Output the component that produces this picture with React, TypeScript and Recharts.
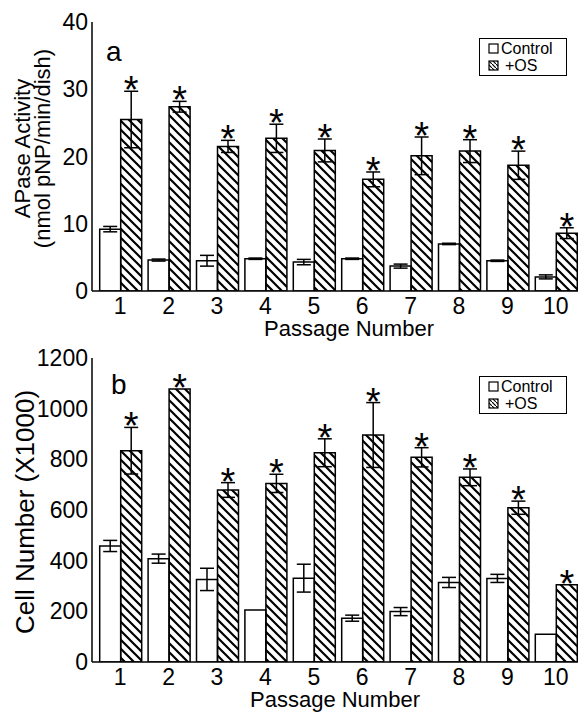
import React from "react";
import { BarChart, Bar, XAxis, YAxis, ErrorBar, LabelList, Legend } from "recharts";

// passage numbers shared by both panels
const passages = ["1", "2", "3", "4", "5", "6", "7", "8", "9", "10"];

// panel a: APase activity (nmol pNP/min/dish)
const apaseControl = [9.2, 4.6, 4.5, 4.8, 4.3, 4.8, 3.7, 7.0, 4.5, 2.1];
const apaseControlErr = [0.4, 0.15, 0.8, 0.1, 0.4, 0.1, 0.3, 0.1, 0.1, 0.3];
const apaseOS = [25.5, 27.4, 21.5, 22.7, 20.9, 16.6, 20.1, 20.8, 18.7, 8.6];
const apaseOSErr = [4.2, 0.8, 0.9, 2.1, 1.7, 1.1, 2.8, 1.7, 2.1, 0.8];
const apaseTicks = [0, 10, 20, 30, 40];

// panel b: cell number (x1000)
const cellControl = [458, 408, 326, 205, 331, 173, 199, 314, 330, 110];
const cellControlErr = [22, 18, 44, 0, 55, 12, 16, 20, 16, 0];
const cellOS = [834, 1078, 679, 705, 826, 896, 808, 729, 609, 305];
const cellOSErr = [92, 0, 29, 36, 55, 128, 38, 33, 26, 0];
const cellTicks = [0, 200, 400, 600, 800, 1000, 1200];

const FONT = "Arial, 'Liberation Sans', Helvetica, sans-serif";

const PLOT_LEFT = 92;
const PLOT_RIGHT = 580;
const CHART_W = 600;
const PAD_L = 4;
const BAND = (PLOT_RIGHT - PLOT_LEFT - PAD_L) / passages.length;
// numeric domain matching the category band, used for the frame tick marks
const NUM_DOMAIN: [number, number] = [0.5 - PAD_L / BAND, passages.length + 0.5];
const halfTicks = passages.flatMap((_, i) => [i + 0.5, i + 1]).concat([passages.length + 0.5]);
const boundaryTicks = passages.map((_, i) => i + 1.5);

const range = (max: number, step: number) => {
  const out: number[] = [];
  for (let v = 0; v <= max + 1e-9; v += step) out.push(v);
  return out;
};

const starLabel = (errs: number[]) => (props: any) => {
  const vb = props.viewBox ?? props;
  const { x, y, width } = vb;
  const height = Math.abs(vb.height);
  const value = Number(props.value);
  if (!value || props.index == null) return null;
  const top = y - (errs[props.index] * height) / value;
  return (
    <text x={x + width / 2} y={top + 12} textAnchor="middle" fontSize={38} fontFamily={FONT} fill="#000">
      *
    </text>
  );
};

function LegendBox({ id }: { id: string }) {
  const row = { display: "flex", alignItems: "center", height: 17 } as const;
  return (
    <div
      style={{
        border: "1.5px solid #000",
        background: "#fff",
        padding: "1px 4px 1px 8px",
        fontFamily: FONT,
        fontSize: 16,
        color: "#000",
        boxSizing: "border-box",
        width: 88,
      }}
    >
      <div style={row}>
        <svg width={11} height={11} style={{ marginRight: 2 }}>
          <rect x={1} y={1} width={9} height={9} fill="#fff" stroke="#000" strokeWidth={1.2} />
        </svg>
        Control
      </div>
      <div style={row}>
        <svg width={11} height={11} style={{ marginRight: 6 }}>
          <defs>
            <pattern id={id + "-sw"} patternUnits="userSpaceOnUse" width={4} height={4}>
              <path d="M-1,-1 L5,5" stroke="#000" strokeWidth={1.2} />
            </pattern>
          </defs>
          <rect x={1} y={1} width={9} height={9} fill={`url(#${id}-sw)`} stroke="#000" strokeWidth={1.2} />
        </svg>
        +OS
      </div>
    </div>
  );
}

type PanelProps = {
  id: string;
  top: number;
  height: number;
  marginTop: number;
  tag: string;
  tagLeft: number;
  tagTop: number;
  control: number[];
  controlErr: number[];
  os: number[];
  osErr: number[];
  yMax: number;
  majorTicks: number[];
  minorStep: number;
  fineStep?: number;
  yTitle: string[];
  yTitleX: number[];
  yTitleSize: number;
  yTitleShift: number;
  xTitleX: number;
  legendTop: number;
};

function Panel(p: PanelProps) {
  const data = passages.map((passage, i) => ({
    passage,
    control: p.control[i],
    controlErr: p.controlErr[i],
    os: p.os[i],
    osErr: p.osErr[i],
  }));
  const axisLine = { stroke: "#000", strokeWidth: 1.5 };
  const tickLine = { stroke: "#000", strokeWidth: 1.2 };

  const yTitle = (props: any) => {
    const vb = props.viewBox ?? {};
    const cy = (vb.y ?? 0) + (vb.height ?? 0) / 2 + p.yTitleShift;
    return (
      <g>
        {p.yTitle.map((line, i) => (
          <text
            key={line}
            x={p.yTitleX[i]}
            y={cy}
            transform={`rotate(-90, ${p.yTitleX[i]}, ${cy})`}
            textAnchor="middle"
            dominantBaseline="central"
            fontSize={p.yTitleSize}
            fontFamily={FONT}
            fill="#000"
          >
            {line}
          </text>
        ))}
      </g>
    );
  };

  const xTitle = (props: any) => {
    const vb = props.viewBox ?? {};
    return (
      <text x={p.xTitleX} y={(vb.y ?? 0) + 45} textAnchor="middle" fontSize={22} fontFamily={FONT} fill="#000">
        Passage Number
      </text>
    );
  };

  return (
    <div style={{ position: "absolute", left: 0, top: p.top, width: CHART_W, height: p.height }}>
      <BarChart
        width={CHART_W}
        height={p.height}
        data={data}
        margin={{ top: p.marginTop, right: CHART_W - PLOT_RIGHT, bottom: 0, left: 0 }}
        barCategoryGap={3.7}
        barGap={0}
        style={{ fontFamily: FONT }}
      >
        <defs>
          <pattern id={p.id} patternUnits="userSpaceOnUse" width={9} height={9}>
            <path d="M-2,-2 L11,11 M-2,7 L2,11 M7,-2 L11,2" stroke="#000" strokeWidth={2.2} />
          </pattern>
        </defs>
        <XAxis
          xAxisId="cat"
          dataKey="passage"
          padding={{ left: PAD_L, right: 0 }}
          interval={0}
          tickLine={false}
          tickSize={0}
          tickMargin={7}
          axisLine={axisLine}
          tick={{ fontSize: 23, fill: "#000", fontFamily: FONT }}
          height={50}
          label={xTitle}
        />
        <XAxis
          xAxisId="top"
          orientation="top"
          type="number"
          domain={NUM_DOMAIN}
          allowDataOverflow
          ticks={halfTicks}
          interval={0}
          mirror
          height={0}
          tick={false}
          tickSize={6}
          axisLine={axisLine}
          tickLine={tickLine}
        />
        <XAxis
          xAxisId="bnd"
          type="number"
          domain={NUM_DOMAIN}
          allowDataOverflow
          ticks={boundaryTicks}
          interval={0}
          mirror
          height={0}
          tick={false}
          tickSize={9}
          axisLine={false}
          tickLine={tickLine}
        />
        <YAxis
          yAxisId="v"
          domain={[0, p.yMax]}
          allowDataOverflow
          ticks={p.majorTicks}
          interval={0}
          width={PLOT_LEFT}
          tickLine={false}
          tickSize={0}
          tickMargin={4}
          axisLine={axisLine}
          tick={{ fontSize: 23, fill: "#000", fontFamily: FONT }}
          label={yTitle}
        />
        <YAxis
          yAxisId="vMinor"
          mirror
          domain={[0, p.yMax]}
          allowDataOverflow
          ticks={range(p.yMax, p.minorStep)}
          interval={0}
          width={0}
          tick={false}
          tickSize={5}
          axisLine={false}
          tickLine={tickLine}
        />
        <YAxis
          yAxisId="vMajor"
          mirror
          domain={[0, p.yMax]}
          allowDataOverflow
          ticks={p.majorTicks}
          interval={0}
          width={0}
          tick={false}
          tickSize={8}
          axisLine={false}
          tickLine={tickLine}
        />
        <YAxis
          yAxisId="right"
          orientation="right"
          mirror
          domain={[0, p.yMax]}
          allowDataOverflow
          ticks={p.fineStep ? range(p.yMax, p.fineStep) : []}
          interval={0}
          width={0}
          tick={false}
          tickSize={5}
          axisLine={axisLine}
          tickLine={tickLine}
        />
        <Legend
          layout="horizontal"
          verticalAlign="middle"
          wrapperStyle={{ top: p.legendTop, left: 479, width: 88 }}
          content={() => <LegendBox id={p.id} />}
        />
        <Bar
          xAxisId="cat"
          yAxisId="v"
          dataKey="control"
          name="Control"
          fill="#fff"
          stroke="#000"
          strokeWidth={1.5}
          isAnimationActive={false}
        >
          <ErrorBar dataKey="controlErr" width={7} stroke="#000" strokeWidth={1.5} />
        </Bar>
        <Bar
          xAxisId="cat"
          yAxisId="v"
          dataKey="os"
          name="+OS"
          fill={`url(#${p.id})`}
          stroke="#000"
          strokeWidth={1.5}
          isAnimationActive={false}
        >
          <ErrorBar dataKey="osErr" width={7} stroke="#000" strokeWidth={1.5} />
          <LabelList dataKey="os" content={starLabel(p.osErr)} />
        </Bar>
      </BarChart>
      <div
        style={{
          position: "absolute",
          left: p.tagLeft,
          top: p.tagTop,
          fontFamily: FONT,
          fontSize: 28,
          lineHeight: "28px",
          color: "#000",
        }}
      >
        {p.tag}
      </div>
    </div>
  );
}

export default function App() {
  return (
    <div
      style={{
        position: "absolute",
        left: 0,
        top: 0,
        width: 578,
        height: 712,
        overflow: "hidden",
        background: "#fff",
      }}
    >
      <Panel
        id="hatchA"
        top={0}
        height={341}
        marginTop={22}
        tag="a"
        tagLeft={106}
        tagTop={38}
        control={apaseControl}
        controlErr={apaseControlErr}
        os={apaseOS}
        osErr={apaseOSErr}
        yMax={40}
        majorTicks={apaseTicks}
        minorStep={5}
        fineStep={1}
        yTitle={["APase Activity", "(nmol pNP/min/dish)"]}
        yTitleX={[22, 42]}
        yTitleSize={22}
        yTitleShift={-8}
        xTitleX={349}
        legendTop={38}
      />
      <Panel
        id="hatchB"
        top={330}
        height={382}
        marginTop={28}
        tag="b"
        tagLeft={111}
        tagTop={41}
        control={cellControl}
        controlErr={cellControlErr}
        os={cellOS}
        osErr={cellOSErr}
        yMax={1200}
        majorTicks={cellTicks}
        minorStep={50}
        yTitle={["Cell Number (X1000)"]}
        yTitleX={[25]}
        yTitleSize={26}
        yTitleShift={2}
        xTitleX={335}
        legendTop={46}
      />
    </div>
  );
}
